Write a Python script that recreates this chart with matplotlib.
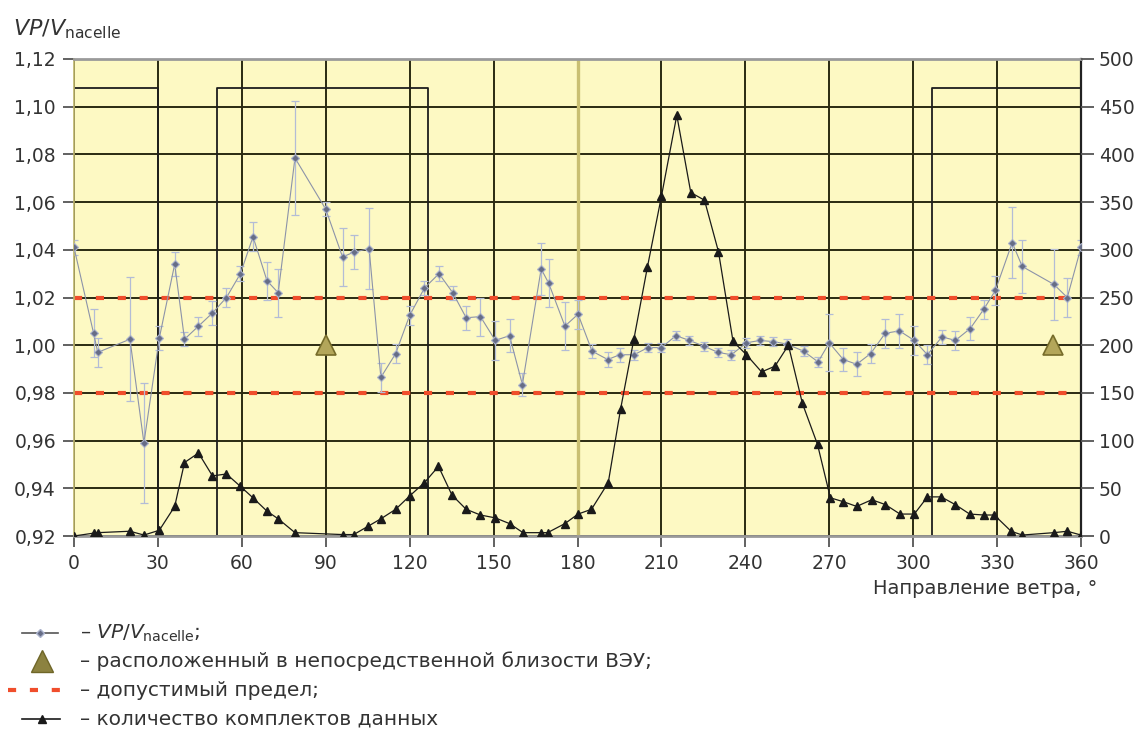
import matplotlib
matplotlib.use('Agg')
import matplotlib.pyplot as plt
from matplotlib.lines import Line2D
from matplotlib.ticker import FuncFormatter

plt.rcParams['font.family'] = ['DejaVu Sans']
plt.rcParams['mathtext.fontset'] = 'dejavusans'

# VP/V_nacelle by wind direction
vp_deg = [0, 7, 8.5, 20, 25, 30.5, 36, 39.5, 44.5, 49.5,
          54.5, 59.5, 64, 69, 73, 79, 90, 96, 100, 105.5,
          109.7, 115, 120, 125.3, 130.5, 135.4, 140.2, 145.3, 150.6, 155.7,
          160.3, 167, 169.7, 175.5, 180.2, 185.2, 190.8, 195.1, 200.2, 205.2,
          210, 215.2, 220, 225.4, 230.2, 235, 240.4, 245.2, 250, 254.8,
          260.8, 266, 270, 275, 279.8, 284.8, 290, 295.1, 300.4, 305.1,
          310.3, 315.1, 320.4, 325.2, 329.4, 335.4, 339, 350.3, 355.1, 360]
vp_val = [1.041, 1.005, 0.997, 1.0025, 0.959, 1.003, 1.034, 1.0025, 1.008, 1.0135,
          1.020, 1.030, 1.0455, 1.027, 1.022, 1.0785, 1.057, 1.037, 1.039, 1.0405,
          0.9865, 0.9965, 1.0125, 1.024, 1.030, 1.022, 1.0115, 1.012, 1.002, 1.004,
          0.9835, 1.032, 1.026, 1.008, 1.013, 0.9975, 0.994, 0.996, 0.996, 0.999,
          0.999, 1.004, 1.002, 0.9995, 0.997, 0.996, 1.001, 1.002, 1.0015, 1.0005,
          0.9975, 0.993, 1.001, 0.994, 0.992, 0.9965, 1.005, 1.006, 1.002, 0.996,
          1.0035, 1.002, 1.007, 1.015, 1.023, 1.043, 1.033, 1.0255, 1.020, 1.041]
vp_err = [0.003, 0.01, 0.006, 0.026, 0.025, 0.005, 0.005, 0.003, 0.004, 0.005,
          0.004, 0.003, 0.006, 0.008, 0.01, 0.024, 0.003, 0.012, 0.007, 0.017,
          0.006, 0.004, 0.004, 0.003, 0.003, 0.003, 0.005, 0.008, 0.008, 0.007,
          0.005, 0.011, 0.01, 0.01, 0.006, 0.003, 0.003, 0.003, 0.002, 0.002,
          0.002, 0.002, 0.002, 0.002, 0.002, 0.002, 0.002, 0.002, 0.002, 0.002,
          0.002, 0.002, 0.012, 0.005, 0.005, 0.004, 0.006, 0.007, 0.006, 0.004,
          0.003, 0.004, 0.005, 0.004, 0.006, 0.015, 0.011, 0.015, 0.008, 0.003]

# number of data sets by wind direction (right axis)
cnt_deg = [0, 7, 8.5, 20, 25, 30.5, 36, 39.5, 44.5, 49.5,
           54.5, 59.5, 64, 69, 73, 79, 96, 100, 105, 109.7,
           115, 120, 125.3, 130.3, 135.1, 140.2, 145.3, 150.6, 155.7, 160.5,
           167, 169.3, 175.5, 180.2, 185, 191, 195.4, 200.2, 205, 210,
           215.5, 220.5, 225.4, 230.4, 235.6, 240.4, 245.8, 250.6, 255.4, 260.4,
           265.8, 270.4, 275, 279.8, 285.2, 290, 295.3, 300.4, 305.1, 310,
           315, 320.2, 325.2, 329, 335, 339, 350.3, 355.1, 360]
cnt_val = [0, 3, 3.5, 5, 1, 6, 31, 77, 87, 63,
           65, 52, 40, 26, 18, 3.5, 1.5, 1.5, 10, 18,
           28, 42, 56, 73, 43, 28, 22, 19, 13, 3.5,
           3.5, 3.5, 13, 23, 28, 56, 133, 207, 282, 356,
           441, 360, 352, 298, 204, 190, 172, 178, 200, 139,
           96, 40, 36, 31, 38, 33, 23, 23, 41, 41,
           33, 23, 22, 22, 5, 1, 3.5, 5, 1]

# met masts close to the turbine
near_deg = [90, 350]
near_val = [1.0, 1.0]

# tolerance limits
limits = [0.98, 1.02]

# measurement sectors
sector_start = [0, 51, 306.8]
sector_end = [30, 126.6, 360]
sector_level = 1.108

x_ticks = list(range(0, 361, 30))
y_ticks = [0.92, 0.94, 0.96, 0.98, 1.00, 1.02, 1.04, 1.06, 1.08, 1.10, 1.12]
cnt_ticks = list(range(0, 501, 50))

fig = plt.figure(figsize=(11.41, 7.37), dpi=100)
ax = fig.add_axes([74 / 1141, 1 - 536 / 737, (1081 - 74) / 1141, (536 - 59) / 737])
ax.set_facecolor('#fdf9c3')
ax.set_xlim(0, 360)
ax.set_ylim(0.92, 1.12)
ax.set_xticks(x_ticks)
ax.set_yticks(y_ticks)
ax.yaxis.set_major_formatter(FuncFormatter(lambda v, p: f'{v:.2f}'.replace('.', ',')))
ax.grid(True, color='#2a2a12', lw=1.4)
ax.set_axisbelow(True)
ax.axvline(180, color='#c9bf72', lw=2.4, zorder=0.6)

for s in ['top', 'bottom']:
    ax.spines[s].set_color('#9a9a9a')
    ax.spines[s].set_linewidth(2)
ax.spines['left'].set_color('#bdb56a')
ax.spines['left'].set_linewidth(1.2)
ax.spines['right'].set_color('#222222')
ax.spines['right'].set_linewidth(1.6)

for s, e in zip(sector_start, sector_end):
    ax.plot([s, s, e, e], [0.92, sector_level, sector_level, 0.92],
            color='#1e1e1e', lw=1.3, zorder=1.5)

for lim in limits:
    ax.plot([0, 360], [lim, lim], color='#f04e2c', lw=3,
            dashes=(1.95, 3.3), zorder=1.8)

ax.errorbar(vp_deg, vp_val, yerr=vp_err, fmt='none', ecolor='#b3bcd6',
            elinewidth=0.9, capsize=3, capthick=0.9, zorder=2)
ax.plot(vp_deg, vp_val, color='#8c93a9', lw=0.8, marker='D', markersize=4.5,
        markerfacecolor='#666d86', markeredgecolor='#aab2cc', markeredgewidth=0.8,
        zorder=3)
ax.plot(near_deg, near_val, ls='none', marker='^', markersize=15,
        markerfacecolor='#b3a65a', markeredgecolor='#766c2a', markeredgewidth=1.2,
        zorder=3)

ax.tick_params(axis='both', direction='out', length=8, width=1.3, color='#555555',
               labelsize=13.5, labelcolor='#333333', pad=5)

ax2 = ax.twinx()
ax2.set_ylim(0, 500)
ax2.set_yticks(cnt_ticks)
ax2.plot(cnt_deg, cnt_val, color='#1a1a1a', lw=0.9, marker='^', markersize=5.5,
         markerfacecolor='#1a1a1a', markeredgecolor='#1a1a1a', zorder=4)
ax2.tick_params(axis='y', direction='out', length=9, width=1.3, color='#555555',
                labelsize=13.5, labelcolor='#333333', pad=4)
for s in ['top', 'bottom', 'left', 'right']:
    ax2.spines[s].set_visible(False)

fig.text(13 / 1141, 1 - 29 / 737, r'$\mathit{VP/V}_{\mathrm{nacelle}}$',
         fontsize=16, color='#333333', va='center', ha='left')
fig.text(1097 / 1141, 1 - 588 / 737, 'Направление ветра, °', fontsize=14,
         color='#333333', va='center', ha='right')

# legend drawn below the axes
def fx(px):
    return px / 1141

def fy(py):
    return 1 - py / 737

rows = [633, 661, 690, 719]
fig.add_artist(Line2D([fx(22), fx(58)], [fy(rows[0])] * 2, color='#555555', lw=1.2,
                      transform=fig.transFigure))
fig.add_artist(Line2D([fx(40)], [fy(rows[0])], color='#555555', marker='D',
                      markersize=4.5, markerfacecolor='#666d86',
                      markeredgecolor='#aab2cc', transform=fig.transFigure))
fig.add_artist(Line2D([fx(42)], [fy(rows[1])], ls='none', marker='^', markersize=16,
                      markerfacecolor='#8c8240', markeredgecolor='#6f6628',
                      transform=fig.transFigure))
fig.add_artist(Line2D([fx(8), fx(64)], [fy(rows[2])] * 2, color='#f04e2c', lw=3,
                      dashes=(1.95, 3.3), transform=fig.transFigure))
fig.add_artist(Line2D([fx(22), fx(60)], [fy(rows[3])] * 2, color='#1a1a1a', lw=1.2,
                      transform=fig.transFigure))
fig.add_artist(Line2D([fx(42)], [fy(rows[3])], ls='none', marker='^', markersize=6,
                      color='#1a1a1a', transform=fig.transFigure))

legend_texts = [r'– $\mathit{VP/V}_{\mathrm{nacelle}}$;',
                '– расположенный в непосредственной близости ВЭУ;',
                '– допустимый предел;',
                '– количество комплектов данных']
for r, t in zip(rows, legend_texts):
    fig.text(fx(80), fy(r), t, fontsize=14.5, color='#333333', va='center', ha='left')

fig.savefig('out.png', dpi=100)
